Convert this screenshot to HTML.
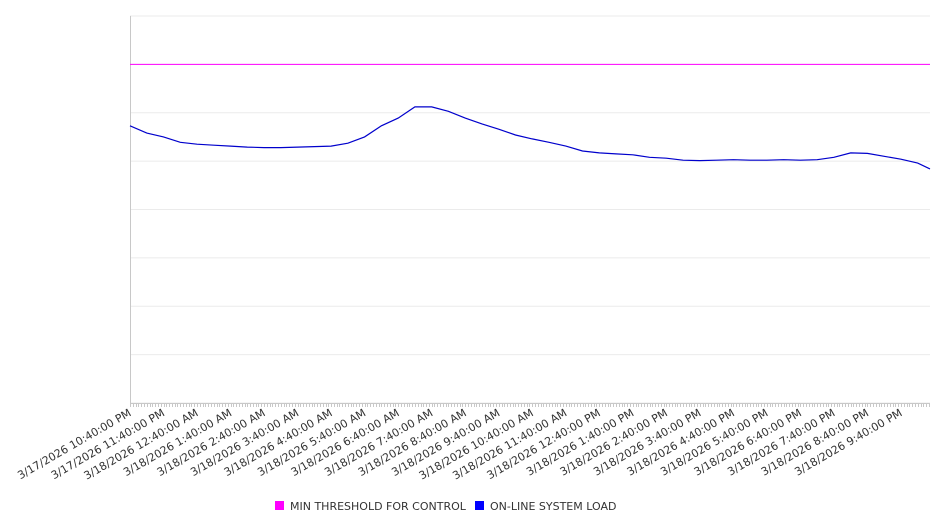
<!DOCTYPE html>
<html><head><meta charset="utf-8"><style>
body{margin:0;background:#fff;font-family:"DejaVu Sans","Liberation Sans",sans-serif}
svg text{font-family:"DejaVu Sans","Liberation Sans",sans-serif}
</style></head><body>
<svg id="chart" width="946" height="526" xmlns="http://www.w3.org/2000/svg">
<g id="grid"></g>
<g id="axes"></g>
<g id="series"></g>
<g id="legend"></g>
</svg>
<script>
const yTicks = [0,100,200,300,400,500,600,700,800];
const threshold = 700;
const loadMinutes = [0,30,60,90,120,150,180,210,240,270,300,330,360,390,420,450,480,510,540,570,600,630,660,690,720,750,780,810,840,870,900,930,960,990,1020,1050,1080,1110,1140,1170,1200,1230,1260,1290,1320,1350,1380,1410,1432];
const loadValues = [573,558,550,539,535,533,531,529,528,528,529,530,531,537,550,573,589,612,612,603,589,577,566,554,546,539,531,521,517,515,513,508,506,502,501,502,503,502,502,503,502,503,508,517,516,510,504,496,484];
const xLabels = ["3/17/2026 10:40:00 PM","3/17/2026 11:40:00 PM","3/18/2026 12:40:00 AM","3/18/2026 1:40:00 AM","3/18/2026 2:40:00 AM","3/18/2026 3:40:00 AM","3/18/2026 4:40:00 AM","3/18/2026 5:40:00 AM","3/18/2026 6:40:00 AM","3/18/2026 7:40:00 AM","3/18/2026 8:40:00 AM","3/18/2026 9:40:00 AM","3/18/2026 10:40:00 AM","3/18/2026 11:40:00 AM","3/18/2026 12:40:00 PM","3/18/2026 1:40:00 PM","3/18/2026 2:40:00 PM","3/18/2026 3:40:00 PM","3/18/2026 4:40:00 PM","3/18/2026 5:40:00 PM","3/18/2026 6:40:00 PM","3/18/2026 7:40:00 PM","3/18/2026 8:40:00 PM","3/18/2026 9:40:00 PM"];
const L=130,R=930,T=16,B=403,maxMin=1432;
const NS="http://www.w3.org/2000/svg";
function x(m){return L+m*(R-L)/maxMin;}
function y(v){return B-v*(B-T)/800;}
function mk(tag,attrs,parent){const e=document.createElementNS(NS,tag);for(const k in attrs)e.setAttribute(k,attrs[k]);parent.appendChild(e);return e;}
const grid=document.getElementById('grid'),axes=document.getElementById('axes'),series=document.getElementById('series'),legend=document.getElementById('legend');
yTicks.forEach(v=>{const l=mk('line',{x1:L,x2:R,y1:y(v),y2:y(v),stroke:'#ebebeb','stroke-width':1},grid);

});
const ya=mk('line',{x1:L+0.5,x2:L+0.5,y1:T,y2:B,stroke:'#c8c8c8'},axes);


const xa=mk('line',{x1:L,x2:R,y1:B+0.5,y2:B+0.5,stroke:'#c8c8c8'},axes);


let d='';for(let m=0;m<=maxMin;m+=5){const px=Math.round(x(m))+0.5;d+=`M${px} ${B}V${B+4}`;}
const tk=mk('path',{d:d,stroke:'#c8c8c8','stroke-width':1,fill:'none'},axes);


xLabels.forEach((s,i)=>{const px=x(i*60)+2;const t=mk('text',{x:px,y:B+12,'text-anchor':'end','font-size':11,fill:'#333',transform:`rotate(-30 ${px} ${B+12})`},axes);t.textContent=s;

});
const th=mk('line',{x1:L,x2:R,y1:y(threshold),y2:y(threshold),stroke:'#ff00ff','stroke-width':1},series);


const pts=loadMinutes.map((m,i)=>x(m).toFixed(1)+','+y(loadValues[i]).toFixed(1)).join(' ');
const pl=mk('polyline',{points:pts,fill:'none',stroke:'#0000cc','stroke-width':1.2},series);


const items=[['MIN THRESHOLD FOR CONTROL','#ff00ff',275],['ON-LINE SYSTEM LOAD','#0000ff',475]];
items.forEach(([txt,c,lx])=>{const g=mk('g',{},legend);


mk('rect',{x:lx,y:501,width:9,height:9,fill:c},g);
const t=mk('text',{x:lx+15,y:510,'font-size':11,fill:'#333'},g);t.textContent=txt;});
</script>
</body></html>
